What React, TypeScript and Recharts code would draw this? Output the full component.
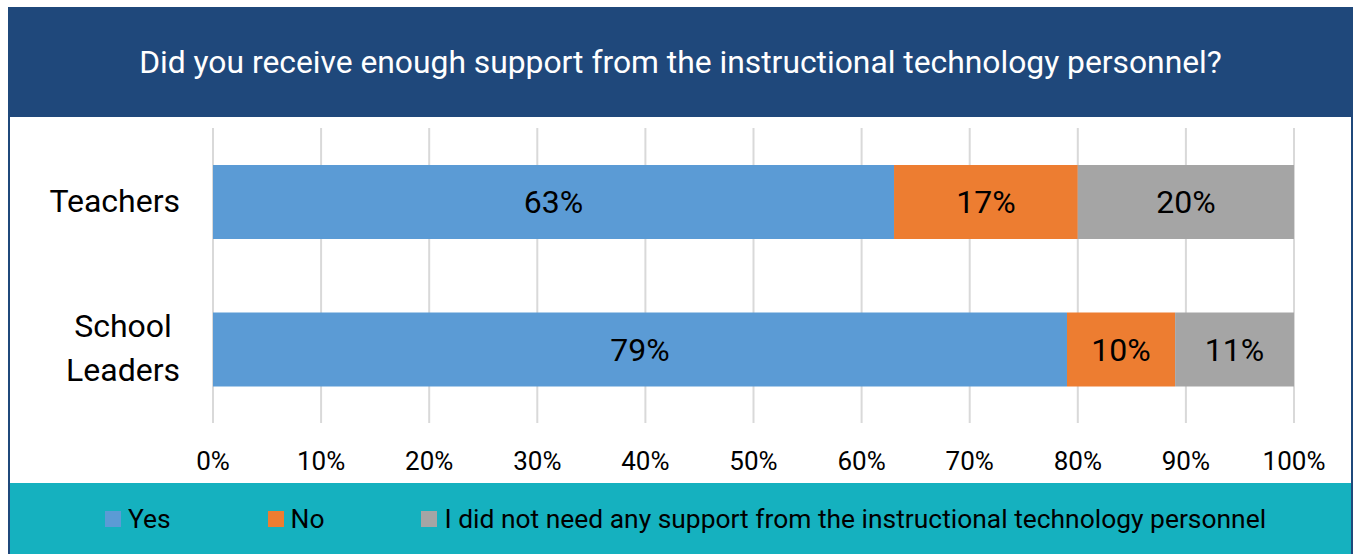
import React from 'react';
import { BarChart, Bar, XAxis, YAxis, CartesianGrid, Legend, LabelList } from 'recharts';

const title = 'Did you receive enough support from the instructional technology personnel?';
const categories = ['Teachers', 'School Leaders'];
const yesValues = [63, 79];
const noValues = [17, 10];
const notNeededValues = [20, 11];
const xTicks = [0, 10, 20, 30, 40, 50, 60, 70, 80, 90, 100];
const seriesKeys = ['yes', 'no', 'notNeeded'];
const seriesNames = ['Yes', 'No', 'I did not need any support from the instructional technology personnel'];
const seriesColors = ['#5B9BD5', '#ED7D31', '#A5A5A5'];

const data = categories.map((c, i) => ({
  category: c,
  yes: yesValues[i],
  no: noValues[i],
  notNeeded: notNeededValues[i],
}));

const FONT = 'Roboto, "Noto Sans", sans-serif';
const NAVY = '#1F487B';
const TEAL = '#15B1BF';

let ctx: CanvasRenderingContext2D | null = null;
function measure(text: string, font: string): number {
  if (!ctx) {
    const c = document.createElement('canvas');
    ctx = c.getContext('2d');
  }
  if (!ctx) return text.length * 15;
  ctx.font = font;
  return ctx.measureText(text).width;
}

const CategoryTick = (props: any) => {
  const { x, y, payload } = props;
  const lines: string[] = String(payload.value).split(' ');
  const fs = 32;
  const widths = lines.map((l) => measure(l, `${fs}px Roboto`));
  const maxW = Math.max(...widths);
  const cx = x - 33 - maxW / 2;
  const n = lines.length;
  return (
    <g>
      {lines.map((l, i) => (
        <text
          key={i}
          x={cx}
          y={y + 10 + (i - (n - 1) / 2) * 44}
          textAnchor="middle"
          fontSize={fs}
          fontFamily={FONT}
          fill="#000"
        >
          {l}
        </text>
      ))}
    </g>
  );
};

const ValueTick = (props: any) => {
  const { x, y, payload } = props;
  return (
    <text x={x} y={y + 47} textAnchor="middle" fontSize={26} fontFamily={FONT} fill="#000">
      {payload.value}%
    </text>
  );
};

const LegendContent = () => (
  <div
    style={{
      width: '100%',
      height: 71,
      background: TEAL,
      display: 'flex',
      alignItems: 'center',
      justifyContent: 'center',
      gap: 97,
      paddingLeft: 10,
      boxSizing: 'border-box',
      fontFamily: FONT,
      fontSize: 26.4,
      color: '#000',
    }}
  >
    {seriesNames.map((name, i) => (
      <div key={name} style={{ display: 'flex', alignItems: 'center' }}>
        <span style={{ width: 16, height: 16, background: seriesColors[i], marginRight: 7, display: 'inline-block' }} />
        <span style={{ whiteSpace: 'nowrap' }}>{name}</span>
      </div>
    ))}
  </div>
);

export default function App() {
  return (
    <div
      style={{
        position: 'absolute',
        top: 7,
        left: 8,
        width: 1345,
        height: 547,
        boxSizing: 'border-box',
        borderLeft: `2px solid ${NAVY}`,
        borderRight: `2px solid ${NAVY}`,
        background: '#fff',
        overflow: 'hidden',
      }}
    >
      <div
        style={{
          height: 110,
          background: NAVY,
          color: '#fff',
          display: 'flex',
          alignItems: 'center',
          justifyContent: 'center',
          fontFamily: FONT,
          fontSize: 31.8,
        }}
      >
        {title}
      </div>
      <BarChart
        width={1341}
        height={437}
        data={data}
        layout="vertical"
        margin={{ top: 11, right: 57, left: 0, bottom: 0 }}
        barCategoryGap="25%"
      >
        <CartesianGrid horizontal={false} stroke="#D9D9D9" strokeWidth={2} />
        <XAxis
          type="number"
          domain={[0, 100]}
          ticks={xTicks}
          axisLine={false}
          tickLine={false}
          tickSize={0}
          tickMargin={0}
          height={60}
          tick={<ValueTick />}
          interval={0}
        />
        <YAxis
          type="category"
          dataKey="category"
          width={203}
          axisLine={false}
          tickLine={false}
          tickSize={0}
          tickMargin={0}
          tick={<CategoryTick />}
        />
        <Legend
          verticalAlign="bottom"
          content={<LegendContent />}
          wrapperStyle={{ left: 0, bottom: 0, width: 1341, height: 71 }}
        />
        {seriesKeys.map((k, i) => (
          <Bar key={k} dataKey={k} name={seriesNames[i]} stackId="s" fill={seriesColors[i]} isAnimationActive={false}>
            <LabelList
              dataKey={k}
              position="center"
              formatter={(v: any) => `${v}%`}
              fill="#000"
              fontSize={32}
              fontFamily={FONT}
            />
          </Bar>
        ))}
      </BarChart>
    </div>
  );
}
